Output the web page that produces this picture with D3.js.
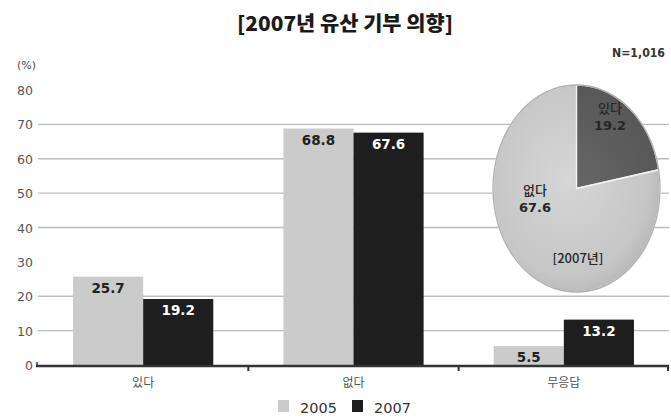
<!DOCTYPE html>
<html><head><meta charset="utf-8">
<script src="https://cdn.jsdelivr.net/npm/d3@7"></script>
<style>body{margin:0;background:#fff}svg{display:block}</style>
</head><body>
<svg id="c" width="671" height="419"></svg>
<script>
const categories = ["있다", "없다", "무응답"];
const seriesNames = ["2005", "2007"];
const values2005 = [25.7, 68.8, 5.5];
const values2007 = [19.2, 67.6, 13.2];
const yTicks = [0, 10, 20, 30, 40, 50, 60, 70, 80];
const gridValues = [10, 20, 40, 50, 60, 70];
const pieLabels = ["있다", "없다"];
const pieValues = [19.2, 67.6];
const colors = ["#cbcbcb", "#1e1e1e"];

const svg = d3.select("#c");
const font = "'DejaVu Sans', 'Noto Sans CJK KR', sans-serif";
const kfont = "'Noto Sans CJK KR', sans-serif";

const x0 = d3.scaleBand().domain(categories).range([38, 669]).paddingInner(0).paddingOuter(0);
const x1 = d3.scaleBand().domain(seriesNames).range([0, x0.bandwidth()]).paddingInner(0).paddingOuter(0.5);
const y = d3.scaleLinear().domain([0, 80]).range([365, 90]);

// title
svg.append("text").attr("x", 345).attr("y", 31).attr("text-anchor", "middle")
  .attr("font-family", kfont).attr("font-weight", "900").attr("font-size", 20)
  .attr("textLength", 216).attr("lengthAdjust", "spacingAndGlyphs")
  .attr("fill", "#1a1a1a").text("[2007년 유산 기부 의향]");

svg.append("text").attr("x", 665).attr("y", 57).attr("text-anchor", "end")
  .attr("font-family", font).attr("font-weight", "bold").attr("font-size", 12)
  .attr("textLength", 53).attr("lengthAdjust", "spacingAndGlyphs")
  .attr("fill", "#333").text("N=1,016");

svg.append("text").attr("x", 17).attr("y", 69)
  .attr("font-family", font).attr("font-size", 11).attr("fill", "#444").text("(%)");

// grid
svg.append("g").selectAll("line").data(gridValues).join("line")
  .attr("x1", 38).attr("x2", 669).attr("y1", d => y(d)).attr("y2", d => y(d))
  .attr("stroke", "#bdbdbd").attr("stroke-width", 1.4);

// y axis labels
svg.append("g").selectAll("text").data(yTicks).join("text")
  .attr("x", 33).attr("y", d => y(d) + 5).attr("text-anchor", "end")
  .attr("font-family", font).attr("font-size", 12.5).attr("fill", "#555").text(d => d);

// bars
const rows = categories.map((c, i) => ({cat: c, vals: [values2005[i], values2007[i]]}));
const grp = svg.append("g").selectAll("g").data(rows).join("g")
  .attr("transform", d => `translate(${x0(d.cat)},0)`);
grp.selectAll("rect").data(d => d.vals.map((v, j) => ({s: seriesNames[j], v, j}))).join("rect")
  .attr("x", d => x1(d.s)).attr("width", x1.bandwidth())
  .attr("y", d => y(d.v)).attr("height", d => y(0) - y(d.v))
  .attr("fill", d => colors[d.j]);
grp.selectAll("text").data(d => d.vals.map((v, j) => ({s: seriesNames[j], v, j}))).join("text")
  .attr("x", d => x1(d.s) + x1.bandwidth() / 2).attr("y", d => y(d.v) + 16)
  .attr("text-anchor", "middle").attr("font-family", font).attr("font-weight", "bold")
  .attr("font-size", 13.5).attr("fill", d => d.j === 0 ? "#222" : "#fff")
  .text(d => d.v.toFixed(1));

// baseline axis
svg.append("line").attr("x1", 36).attr("x2", 669).attr("y1", y(0) + 1).attr("y2", y(0) + 1)
  .attr("stroke", "#333").attr("stroke-width", 2.5);
svg.append("line").attr("x1", 37).attr("x2", 37).attr("y1", y(0) - 3).attr("y2", y(0) + 2)
  .attr("stroke", "#333").attr("stroke-width", 1.5);
svg.append("g").selectAll("line").data(categories.slice(1).concat(["end"])).join("line")
  .attr("x1", d => d === "end" ? 668 : x0(d)).attr("x2", d => d === "end" ? 668 : x0(d))
  .attr("y1", y(0)).attr("y2", y(0) + 6).attr("stroke", "#333").attr("stroke-width", 2);

// category labels
svg.append("g").selectAll("text").data(categories).join("text")
  .attr("x", d => x0(d) + x0.bandwidth() / 2).attr("y", 387).attr("text-anchor", "middle")
  .attr("font-family", kfont).attr("font-size", 12).attr("fill", "#555").text(d => d);

// legend
const lg = svg.append("g");
seriesNames.forEach((s, i) => {
  const lx = 278 + i * 74;
  lg.append("rect").attr("x", lx).attr("y", 400).attr("width", 11).attr("height", 12).attr("fill", colors[i]);
  lg.append("text").attr("x", lx + 22).attr("y", 412.5).attr("font-family", font)
    .attr("font-size", 14.5).attr("fill", "#333").text(s);
});

// pie
const defs = svg.append("defs");
const rg = defs.append("radialGradient").attr("id", "lg1").attr("cx", "45%").attr("cy", "45%").attr("r", "60%");
rg.append("stop").attr("offset", "0%").attr("stop-color", "#d6d6d6");
rg.append("stop").attr("offset", "80%").attr("stop-color", "#c6c6c6");
rg.append("stop").attr("offset", "100%").attr("stop-color", "#b4b4b4");
const rg2 = defs.append("radialGradient").attr("id", "lg2").attr("cx", "0%").attr("cy", "100%").attr("r", "120%");
rg2.append("stop").attr("offset", "0%").attr("stop-color", "#666");
rg2.append("stop").attr("offset", "100%").attr("stop-color", "#555");

const cx = 576.5, cy = 188.5, rx = 83.5, ry = 103.5;
const pie = d3.pie().sort(null)(pieValues);
const arc = d3.arc().innerRadius(0).outerRadius(100);
const pg = svg.append("g").attr("transform", `translate(${cx},${cy}) scale(${rx / 100},${ry / 100})`);
pg.selectAll("path").data(pie).join("path")
  .attr("d", arc).attr("fill", (d, i) => i === 0 ? "url(#lg2)" : "url(#lg1)")
  .attr("stroke", "#f2f2f2").attr("stroke-width", 1.5);
pg.append("ellipse").attr("rx", 100).attr("ry", 100).attr("fill", "none")
  .attr("stroke", "#b0b0b0").attr("stroke-width", 1.5);

const labPos = [[610, 113], [535, 195]];
pie.forEach((d, i) => {
  const t = svg.append("text").attr("text-anchor", "middle").attr("font-family", font)
    .attr("font-size", 13).attr("fill", "#262626");
  t.append("tspan").attr("x", labPos[i][0]).attr("y", labPos[i][1]).attr("font-family", kfont).attr("font-weight", "500").text(pieLabels[i]);
  t.append("tspan").attr("x", labPos[i][0]).attr("y", labPos[i][1] + 17).attr("font-weight", "bold").text(pieValues[i].toFixed(1));
});
svg.append("text").attr("x", 578).attr("y", 263).attr("text-anchor", "middle")
  .attr("font-family", kfont).attr("font-size", 13).attr("font-weight", "500").attr("fill", "#262626").text("[2007년]");
</script>
</body></html>
